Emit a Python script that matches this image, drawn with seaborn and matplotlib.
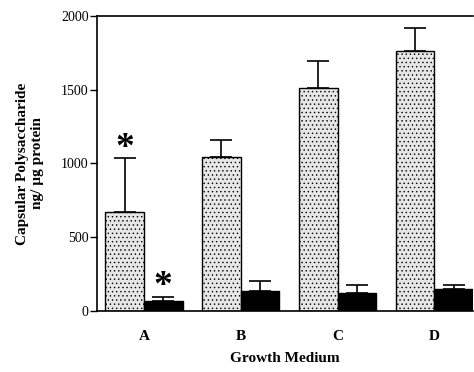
import matplotlib
matplotlib.use("Agg")
import matplotlib.pyplot as plt
import seaborn as sns
import pandas as pd
import numpy as np

media = ["A", "B", "C", "D"]
series = ["light", "dark"]
light_vals = [673, 1046, 1510, 1763]
light_err = [362, 113, 185, 154]
dark_vals = [70, 135, 124, 147]
dark_err = [27, 68, 52, 29]
starred = [(0, "light"), (0, "dark")]

sns.set_theme(style="white")
plt.rcParams['font.family'] = ['Liberation Serif', 'DejaVu Serif']
plt.rcParams['hatch.color'] = '#a0a0a0'
plt.rcParams['hatch.linewidth'] = 0.5
for k in ['text.color', 'axes.labelcolor', 'xtick.color', 'ytick.color']:
    plt.rcParams[k] = 'black'

df = pd.DataFrame({
    "medium": media * 2,
    "series": ["light"] * 4 + ["dark"] * 4,
    "value": light_vals + dark_vals,
})

fig = plt.figure(figsize=(4.74, 3.72), dpi=100)
ax = fig.add_axes([0.2046, 0.164, 0.7934, 0.793])
sns.barplot(data=df, x="medium", y="value", hue="series", order=media,
            hue_order=series, palette={"light": "#e6e6e6", "dark": "black"},
            errorbar=None, width=0.8, edgecolor="black", linewidth=1.0,
            legend=False, ax=ax)

errs = {"light": light_err, "dark": dark_err}
vals = {"light": light_vals, "dark": dark_vals}
for si, s in enumerate(series):
    cont = ax.containers[si]
    xs = [p.get_x() + p.get_width() / 2 for p in cont.patches]
    if s == "light":
        for p in cont.patches:
            p.set_hatch("....")
    ax.errorbar(xs, vals[s], yerr=[np.zeros(4), errs[s]], fmt="none",
                ecolor="black", elinewidth=1.2, capsize=8, capthick=1.2)
    for (gi, ss) in starred:
        if ss == s:
            ax.text(xs[gi], vals[s][gi] + errs[s][gi] + 70, "*",
                    ha="center", va="center", fontsize=27, fontweight="bold",
                    color="black")

ax.set_xlim(-0.485, 3.4)
ax.set_ylim(0, 2000)
ax.set_yticks([0, 500, 1000, 1500, 2000])
ax.tick_params(axis="y", which="both", left=True, direction="out", length=5,
               width=1, labelsize=10, pad=1)
ax.tick_params(axis="x", bottom=False, labelsize=11, pad=8)
for lab in ax.get_xticklabels():
    lab.set_fontweight("bold")
ax.set_xlabel("Growth Medium", fontsize=11, fontweight="bold")
ax.xaxis.set_label_coords(0.5, -0.16)
ax.xaxis.label.set_va("center")
ax.set_ylabel("Capsular Polysaccharide\nng/ µg protein", fontsize=11,
              fontweight="bold", labelpad=12)
for sp in ["left", "bottom", "top"]:
    ax.spines[sp].set_visible(True)
    ax.spines[sp].set_color("black")
    ax.spines[sp].set_linewidth(1.2)
ax.spines["right"].set_visible(False)

fig.savefig("out.png", dpi=100)
